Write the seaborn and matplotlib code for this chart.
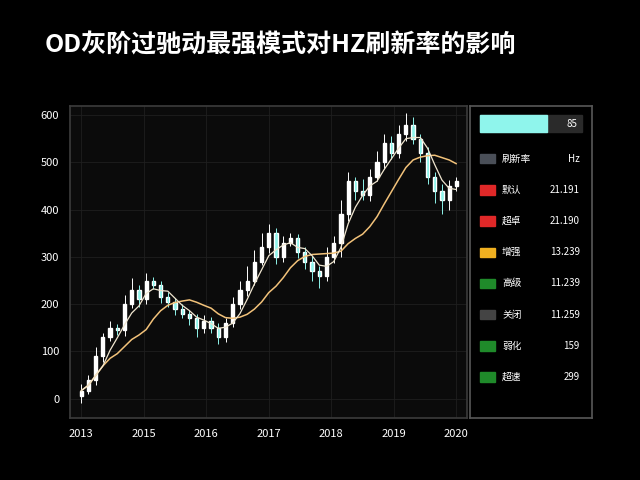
import matplotlib
matplotlib.use("Agg")
import matplotlib.pyplot as plt
import seaborn as sns
import numpy as np
import pandas as pd

sns.set_theme(style="dark")
plt.rcParams['font.family'] = ['Noto Sans CJK SC', 'DejaVu Sans']

title = "OD灰阶过驰动最强模式对HZ刷新率的影响"
closes = [17, 40, 90, 130, 150, 145, 200, 230, 210, 250, 240, 215, 205, 190, 180, 170, 150, 165, 150, 130,
          160, 200, 230, 250, 290, 320, 350, 300, 330, 340, 310, 290, 270, 260, 300, 330, 390, 460, 440, 430,
          470, 500, 540, 520, 560, 580, 550, 520, 470, 440, 420, 450, 460]
opens = [5] + closes[:-1]
wick_up = [15, 10, 20, 10, 15, 8, 20, 25, 10, 15, 8, 10, 10, 8, 10, 8, 10, 12, 8, 10,
           10, 15, 20, 30, 25, 30, 20, 12, 15, 10, 8, 10, 12, 10, 20, 15, 30, 20, 10, 25,
           15, 25, 20, 15, 20, 25, 15, 10, 12, 10, 15, 12, 8]
wick_dn = [15, 8, 10, 12, 8, 10, 12, 8, 15, 10, 8, 12, 10, 12, 10, 15, 20, 10, 12, 15,
           10, 8, 10, 12, 10, 8, 12, 15, 10, 8, 12, 15, 20, 25, 10, 12, 30, 15, 20, 10,
           12, 10, 15, 12, 10, 15, 12, 20, 15, 25, 30, 20, 10]
xtick_labels = ["2013", "2015", "2016", "2017", "2018", "2019", "2020"]
ytick_labels = ["0", "100", "200", "300", "400", "500", "600"]
legend_names = ["刷新率", "默认", "超卓", "增强", "高级", "关闭", "弱化", "超速"]
legend_vals = ["Hz", "21.191", "21.190", "13.239", "11.239", "11.259", "159", "299"]
legend_colors = ["#4a4f58", "#e02828", "#e02828", "#f0b020", "#1f8a2a", "#444444", "#1f8a2a", "#1f8a2a"]
gauge_value = 85

n = len(closes)
df = pd.DataFrame({"i": np.arange(n), "open": opens, "close": closes})
df["high"] = np.maximum(df.open, df.close) + np.array(wick_up)
df["low"] = np.minimum(df.open, df.close) - np.array(wick_dn)
df["ma_fast"] = df.close.rolling(4, min_periods=1).mean()
df["ma_slow"] = df.close.rolling(10, min_periods=1).mean()

fig = plt.figure(figsize=(6.4, 4.8), dpi=100, facecolor="black")
fig.text(0.07, 0.89, title, color="white", fontsize=18, fontweight="bold", ha="left")

ax = fig.add_axes([0.11, 0.13, 0.62, 0.65], facecolor="#0b0b0b")
up = df.close >= df.open
colors = np.where(up, "white", "#8ff5ec")
ax.vlines(df.i, df.low, df.high, colors=colors, linewidth=0.7)
ax.bar(df.i, (df.close - df.open).abs().clip(lower=4), bottom=np.minimum(df.open, df.close),
       color=colors, width=0.45)
sns.lineplot(data=df, x="i", y="ma_slow", ax=ax, color="#f2c27a", linewidth=1.1)
sns.lineplot(data=df, x="i", y="ma_fast", ax=ax, color="#f0e6d0", linewidth=0.9)
ax.set_xlim(-1.5, n + 0.5)
ax.set_ylim(-40, 620)
ax.set_yticks([0, 100, 200, 300, 400, 500, 600])
ax.set_yticklabels(ytick_labels)
ax.set_xticks(np.linspace(0, n - 1, len(xtick_labels)))
ax.set_xticklabels(xtick_labels)
ax.set_xlabel(""); ax.set_ylabel("")
ax.tick_params(colors="white", labelsize=8, length=0, pad=8)
ax.grid(True, color="#1f1f1f", linewidth=0.6)
for s in ax.spines.values():
    s.set_color("#3a3a3a")

lg = fig.add_axes([0.735, 0.13, 0.19, 0.65], facecolor="black")
lg.set_xlim(0, 1); lg.set_ylim(0, 10)
lg.set_xticks([]); lg.set_yticks([])
for s in lg.spines.values():
    s.set_color("#555555")
lg.add_patch(plt.Rectangle((0.08, 9.15), 0.84, 0.55, color="#2a2a2a"))
lg.add_patch(plt.Rectangle((0.08, 9.15), 0.84 * gauge_value / 130, 0.55, color="#8ff5ec"))
lg.text(0.88, 9.42, str(gauge_value), color="white", fontsize=7, ha="right", va="center")
for k, (nm, v, c) in enumerate(zip(legend_names, legend_vals, legend_colors)):
    y = 8.3 - k * 1.0
    lg.add_patch(plt.Rectangle((0.08, y - 0.15), 0.12, 0.3, color=c))
    lg.text(0.26, y, nm, color="white", fontsize=7, va="center")
    lg.text(0.9, y, v, color="white", fontsize=7, va="center", ha="right")

fig.savefig("out.png", facecolor="black")
